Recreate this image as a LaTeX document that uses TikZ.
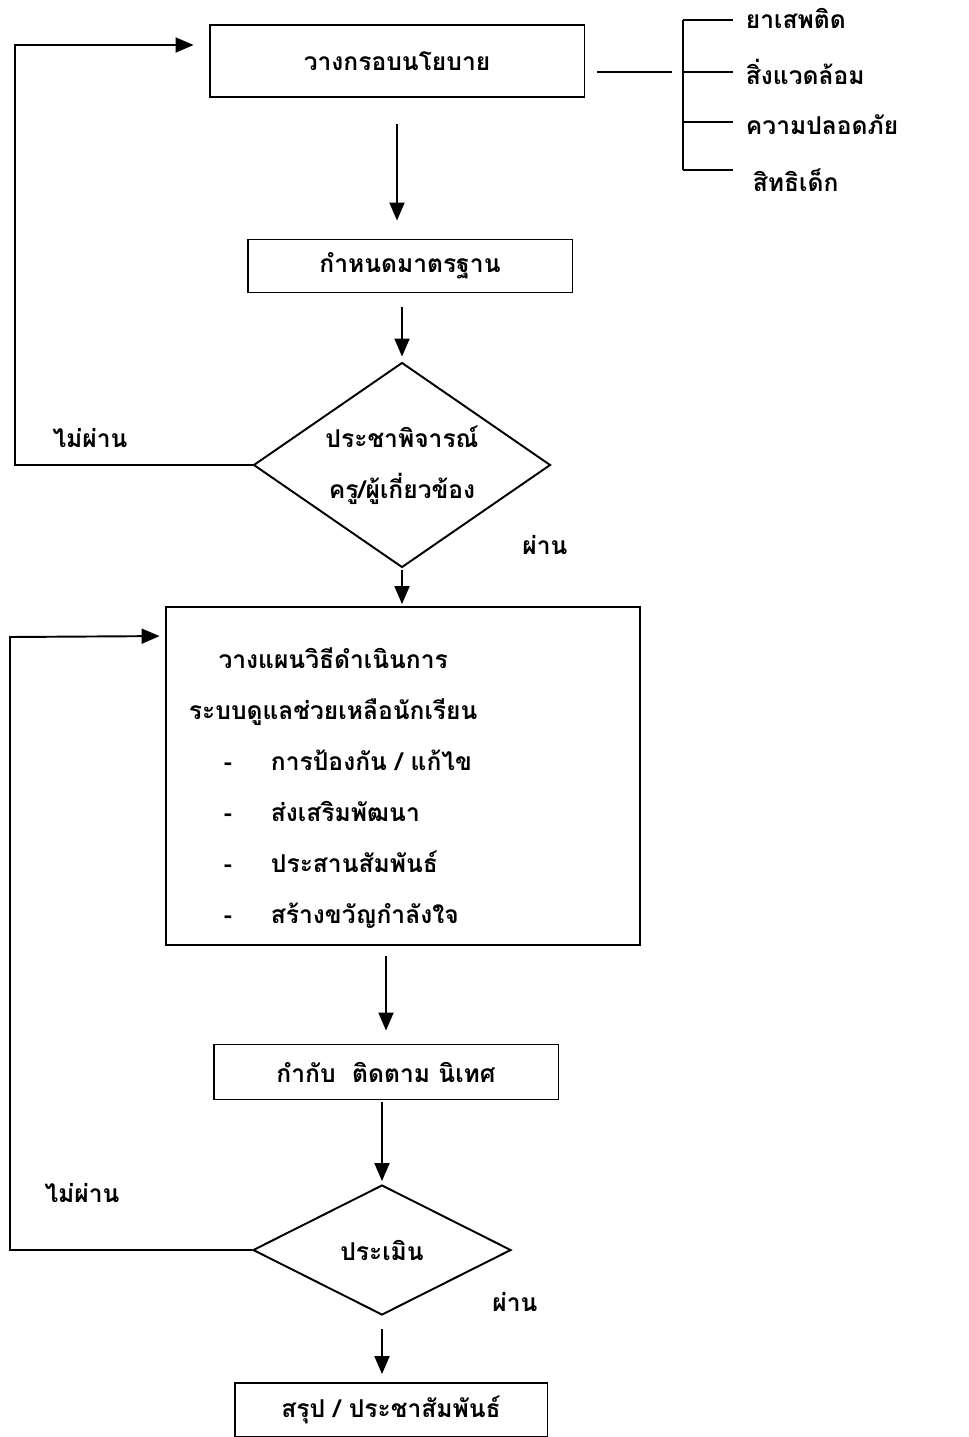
\documentclass[tikz,border=0pt]{standalone}
\usepackage{fontspec}
\newfontfamily\thaifont[Script=Thai]{Loma}
\usepackage{tikz}
\usetikzlibrary{arrows.meta,shapes.geometric}

\begin{document}
\begin{tikzpicture}[x=0.02cm,y=-0.02cm,>={Triangle[length=0.36cm,width=0.3cm]},
    line width=1.1pt,font=\fontsize{14}{29}\thaifont\bfseries]
%    \tikzset{every node/.style={text=black}}
    \tikzset{box/.style={draw,rectangle,inner sep=0pt},
             decision/.style={draw,diamond,aspect=1.45,inner sep=0pt,align=center},
             label/.style={inner sep=0pt}}
    \useasboundingbox (0,0) rectangle (968,1437);

    \node[box,minimum width=7.5cm,minimum height=1.44cm]   (0) at (397,61)   {วางกรอบนโยบาย};
    \node[box,minimum width=6.5cm,minimum height=1.06cm]   (1) at (410,266)  {กำหนดมาตรฐาน};
    \node[decision,minimum width=5.94cm,minimum height=4.1cm] (2) at (402,465)
        {ประชาพิจารณ์\\ครู/ผู้เกี่ยวข้อง};
    \node[box,minimum width=9.5cm,minimum height=6.76cm]   (3) at (403,776)  {};
    \node[box,minimum width=6.9cm,minimum height=1.1cm]    (4) at (386,1072) {กำกับ\ \ ติดตาม นิเทศ};
    \node[decision,minimum width=5.16cm,minimum height=2.6cm] (5) at (382,1250) {ประเมิน};
    \node[box,minimum width=6.26cm,minimum height=1.08cm]  (6) at (391,1410) {สรุป / ประชาสัมพันธ์};

    % text of the plan box
    \node[label,anchor=west] (3a) at (188,786) {%
      \begin{tabular}{@{\hspace{0.7cm}}p{0.94cm}@{}l@{}}
        \multicolumn{2}{@{}c@{}}{วางแผนวิธีดำเนินการ}\\
        \multicolumn{2}{@{}c@{}}{ระบบดูแลช่วยเหลือนักเรียน}\\
        - & การป้องกัน / แก้ไข\\
        - & ส่งเสริมพัฒนา\\
        - & ประสานสัมพันธ์\\
        - & สร้างขวัญกำลังใจ
      \end{tabular}};

    % issues beside the policy box
    \coordinate (k0) at (683,20);
    \coordinate (k1) at (683,72);
    \coordinate (k2) at (683,122);
    \coordinate (k3) at (683,170);
    \node[label,anchor=west] (t0) at (745,18)  {ยาเสพติด};
    \node[label,anchor=west] (t1) at (745,72)  {สิ่งแวดล้อม};
    \node[label,anchor=west] (t2) at (745,125) {ความปลอดภัย};
    \node[label,anchor=west] (t3) at (752,180) {สิทธิเด็ก};
    \draw (k0) -- (k3);
    \draw ([shift={(12,11)}]0.east) -- ([shift={(-11,0)}]k1);
    \draw (k0) -- ([shift={(50,0)}]k0);
    \draw (k1) -- ([shift={(50,0)}]k1);
    \draw (k2) -- ([shift={(50,0)}]k2);
    \draw (k3) -- ([shift={(50,0)}]k3);

    % yes / no labels
    \node[label] (n0) at (90,438)  {ไม่ผ่าน};
    \node[label] (y0) at (545,545) {ผ่าน};
    \node[label] (n1) at (82,1193) {ไม่ผ่าน};
    \node[label] (y1) at (515,1302) {ผ่าน};

    \coordinate (c0) at (15,45);
    \coordinate (c1) at (10,637);

    \draw[->,shorten <=0.52cm,shorten >=0.36cm] (0.south) -- (0.south |- 1.north);
    \draw[->,shorten <=0.28cm,shorten >=0.1cm]  (2.north |- 1.south) -- (2.north);
    \draw[->,shorten <=0.04cm,shorten >=0.04cm] (2.south) -- (2.south |- 3.north);
    \draw[->,shorten <=0.2cm,shorten >=0.26cm]  (4.north |- 3.south) -- (4.north);
    \draw[->,shorten <=0.04cm,shorten >=0.06cm] (5.north |- 4.south) -- (5.north);
    \draw[->,shorten <=0.26cm,shorten >=0.16cm] (5.south) -- (5.south |- 6.north);
    \draw[->] (2.west) -| (c0) -- ([shift={(-15,-16)}]0.west);
    \draw[->] (5.west) -| (c1) -- ([shift={(-5,30)}]3.north west);
  \end{tikzpicture}
\end{document}
